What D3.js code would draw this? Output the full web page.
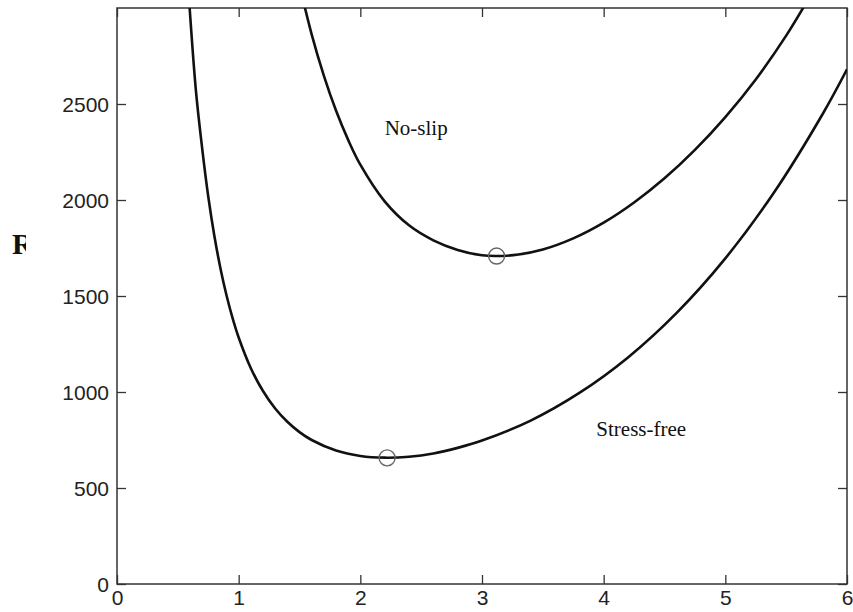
<!DOCTYPE html>
<html>
<head>
<meta charset="utf-8">
<script src="https://cdn.jsdelivr.net/npm/d3@7"></script>
<style>
  body { margin: 0; background: #fff; }
  svg { display: block; }
  .tick text { font-family: "Liberation Sans", Arial, sans-serif; }
</style>
</head>
<body>
<svg id="chart" width="853" height="612"></svg>
<script>
// wavenumber k vs critical Rayleigh number
const freeK  = [0.59, 0.65, 0.7, 0.75, 0.8, 0.85, 0.9, 0.95, 1.0, 1.1, 1.2, 1.3, 1.4, 1.5, 1.6, 1.8, 2.0, 2.2, 2.4, 2.6, 2.8, 3.0, 3.4, 3.8, 4.2, 4.6, 5.0, 5.4, 5.8, 6.0];
const freeRa = [3064, 2560, 2269, 2018, 1814, 1645, 1504, 1385, 1284, 1124, 1005, 914, 845, 791, 750, 695, 667, 658, 663, 680, 709, 747, 851, 995, 1180, 1412, 1696, 2039, 2448, 2681];

const rigidK  = [1.5, 1.6, 1.7, 1.8, 1.9, 2.0, 2.2, 2.4, 2.6, 2.8, 3.0, 3.12, 3.3, 3.5, 3.75, 4.0, 4.25, 4.5, 4.75, 5.0, 5.25, 5.5, 5.7];
const rigidRa = [3119, 2863, 2648, 2466, 2313, 2184, 1993, 1868, 1790, 1740, 1712, 1708, 1716, 1742, 1800, 1882, 1987, 2113, 2261, 2432, 2628, 2856, 3066];

// critical points (minima)
const critK  = [2.22, 3.12];
const critRa = [657, 1708];

const xTicks = [0, 1, 2, 3, 4, 5, 6];
const yTicks = [0, 500, 1000, 1500, 2000, 2500];

const labels = [
  { text: 'No-slip',     k: 2.2,  ra: 2340 },
  { text: 'Stress-free', k: 3.94, ra: 769 }
];

const L = 117, R = 847, T = 8, B = 584;

const svg = d3.select('#chart');

const x = d3.scaleLinear().domain([0, 6]).range([L, R]);
const y = d3.scaleLinear().domain([0, 3000]).range([B, T]);

svg.append('defs').append('clipPath').attr('id', 'plot')
  .append('rect').attr('x', L).attr('y', T).attr('width', R - L).attr('height', B - T);
svg.select('defs').append('clipPath').attr('id', 'ylab')
  .append('rect').attr('x', 0).attr('y', 200).attr('width', 26).attr('height', 80);

const tickLen = 9;

// bottom / left axes with inward ticks
const gx = svg.append('g').attr('transform', `translate(0,${B})`)
  .call(d3.axisBottom(x).tickValues(xTicks).tickSizeInner(-tickLen).tickSizeOuter(0).tickPadding(6).tickFormat(d3.format('d')));
const gy = svg.append('g').attr('transform', `translate(${L},0)`)
  .call(d3.axisLeft(y).tickValues(yTicks).tickSizeInner(-tickLen).tickSizeOuter(0).tickPadding(8).tickFormat(d3.format('d')));
// mirrored ticks on top / right
const gt = svg.append('g').attr('transform', `translate(0,${T})`)
  .call(d3.axisTop(x).tickValues(xTicks).tickSizeInner(-tickLen).tickSizeOuter(0).tickFormat(''));
const gr = svg.append('g').attr('transform', `translate(${R},0)`)
  .call(d3.axisRight(y).tickValues(yTicks).tickSizeInner(-tickLen).tickSizeOuter(0).tickFormat(''));

[gx, gy, gt, gr].forEach(g => {
  g.select('.domain').remove();
  g.selectAll('line').attr('stroke', '#333').attr('stroke-width', 1.3);
  g.selectAll('text').attr('fill', '#222').attr('font-size', 21);
});
gx.selectAll('text').attr('dy', '0.72em');
gy.selectAll('text').attr('dy', '0.36em');

// frame
svg.append('rect')
  .attr('x', L).attr('y', T).attr('width', R - L).attr('height', B - T)
  .attr('fill', 'none').attr('stroke', '#333').attr('stroke-width', 1.5);

const line = d3.line()
  .x(d => x(d[0])).y(d => y(d[1]))
  .curve(d3.curveCatmullRom.alpha(0.5));

const curves = svg.append('g').attr('clip-path', 'url(#plot)');
[[freeK, freeRa], [rigidK, rigidRa]].forEach(([ks, ras]) => {
  curves.append('path')
    .datum(ks.map((k, i) => [k, ras[i]]))
    .attr('d', line)
    .attr('fill', 'none')
    .attr('stroke', '#111')
    .attr('stroke-width', 2.6);
});

svg.selectAll('.crit')
  .data(critK.map((k, i) => [k, critRa[i]]))
  .join('circle')
  .attr('class', 'crit')
  .attr('cx', d => x(d[0])).attr('cy', d => y(d[1]))
  .attr('r', 8)
  .attr('fill', 'none')
  .attr('stroke', '#666')
  .attr('stroke-width', 1.4);

svg.selectAll('.lbl')
  .data(labels)
  .join('text')
  .attr('class', 'lbl')
  .attr('x', d => x(d.k)).attr('y', d => y(d.ra))
  .attr('font-family', '"Liberation Serif", "Times New Roman", serif')
  .attr('font-size', 21)
  .attr('fill', '#111')
  .text(d => d.text);

// y label, cut off at the left edge like the original
svg.append('text')
  .attr('clip-path', 'url(#ylab)')
  .attr('x', 12).attr('y', 254)
  .attr('font-family', '"Liberation Serif", "Times New Roman", serif')
  .attr('font-weight', 'bold')
  .attr('font-size', 30)
  .attr('fill', '#111')
  .text('Ra');
</script>
</body>
</html>
